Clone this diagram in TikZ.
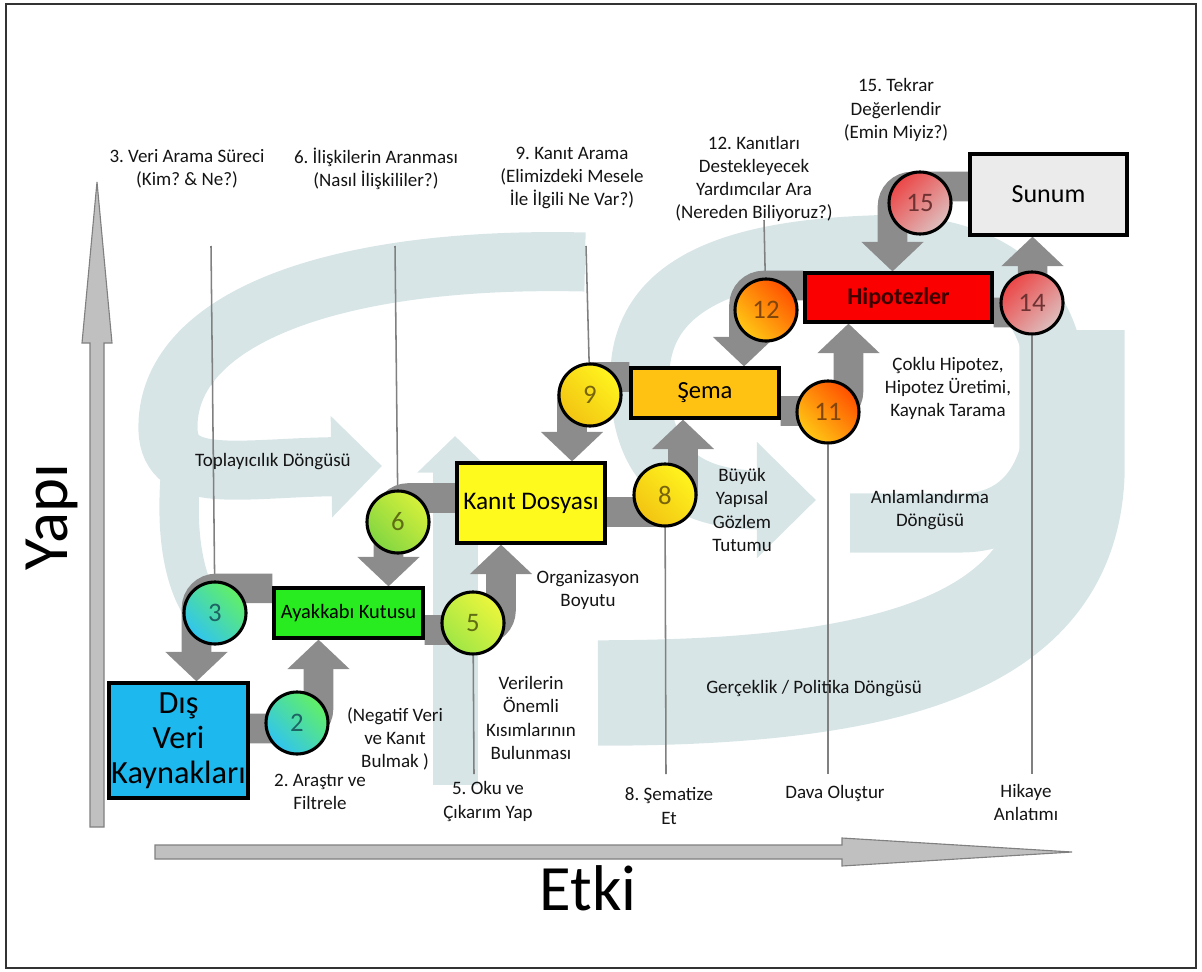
\documentclass[tikz,border=0pt]{standalone}
\usepackage{fontspec}
\setmainfont{Carlito}
\usepackage{tikz}
\usetikzlibrary{arrows.meta, calc, backgrounds}

\definecolor{swirl}{RGB}{216,229,231}
\definecolor{linkgray}{RGB}{140,140,140}
\definecolor{axisfill}{RGB}{192,192,192}
\definecolor{axisline}{RGB}{128,128,128}
\definecolor{disblue}{RGB}{28,184,238}
\definecolor{ayakgreen}{RGB}{40,236,32}
\definecolor{kanityellow}{RGB}{255,250,30}
\definecolor{semaamber}{RGB}{255,194,18}
\definecolor{hipored}{RGB}{250,0,0}
\definecolor{sunumgray}{RGB}{235,235,235}
\definecolor{cyantop}{RGB}{98,240,100}
\definecolor{cyanbot}{RGB}{48,196,240}
\definecolor{limetop}{RGB}{236,246,60}
\definecolor{limebot}{RGB}{160,230,70}
\definecolor{leaftop}{RGB}{214,240,58}
\definecolor{leafbot}{RGB}{130,214,66}
\definecolor{suntop}{RGB}{255,244,30}
\definecolor{sunbot}{RGB}{242,196,18}
\definecolor{firetop}{RGB}{255,80,0}
\definecolor{firebot}{RGB}{255,200,20}
\definecolor{rosetop}{RGB}{236,70,70}
\definecolor{rosebot}{RGB}{222,190,190}

\pgfdeclarelayer{swirls}
\pgfdeclarelayer{links}
\pgfsetlayers{swirls,links,main}

\def\px{0.025cm}
\frenchspacing

\tikzset{
    box/.style={draw=black, line width=2.2pt, inner sep=0pt, align=center},
    ball/.style 2 args={circle, draw=black, line width=2.2pt, minimum size=62*\px, inner sep=0pt,
        top color=#1, bottom color=#2, shading angle=-45, font=\fontsize{19}{19}\selectfont},
    link/.style={draw=linkgray, line width=21pt, rounded corners=14pt, -{Triangle[length=21pt,width=43pt]}},
    leader/.style={draw=black!50, line width=1.1pt},
    lbl/.style={align=center, text=black!92, font=\fontsize{13.5}{16.4}\selectfont},
    band/.style={draw=swirl, line width=#1},
}

\begin{document}
\begin{tikzpicture}[x=0.025cm, y=-0.025cm]

    \useasboundingbox (0,0) rectangle (1202,972);
    \draw[line width=1pt, black!80] (6,4) rectangle (1196,968);

    % background loops
    \begin{pgfonlayer}{swirls}
        \draw[band=42pt, -{Triangle[length=36pt,width=70pt]}] (585,262) .. controls (330,256) and (165,320) .. (168,430) .. controls (170,485) and (240,468) .. (382,466);
        \draw[band=28pt] (180,480) .. controls (176,540) and (185,585) .. (205,612);
        \draw[band=32pt, -{Triangle[length=26pt,width=52pt]}] (455,785) -- (455,436);
        \draw[band=42pt, -{Triangle[length=42pt,width=80pt]}] (850,523) -- (960,523) .. controls (1040,523) and (1062,450) .. (1055,370) .. controls (1045,275) and (960,240) .. (870,245) .. controls (740,250) and (645,280) .. (640,370) .. controls (636,470) and (690,500) .. (816,500);
        \draw[band=75pt] (598,693) .. controls (900,693) and (1068,640) .. (1072,470) -- (1072,330);
    \end{pgfonlayer}

    % axes
    \filldraw[fill=axisfill, draw=axisline, line width=0.8pt] (90,827) -- (90,343) -- (82,343) -- (97,182) -- (112,343) -- (104,343) -- (104,827) -- cycle;
    \filldraw[fill=axisfill, draw=axisline, line width=0.8pt] (155,845) -- (842,845) -- (842,838) -- (1072,852) -- (842,866) -- (842,859) -- (155,859) -- cycle;
    \node[font=\fontsize{46}{46}\selectfont, rotate=90] (yapi) at (52,517) {Yapı};
    \node[font=\fontsize{46}{46}\selectfont] (etki) at (588,888) {Etki};

    % boxes
    \node[box, fill=disblue, minimum width=139*\px, minimum height=115*\px, font=\fontsize{23}{25}\selectfont] (dis) at (178.5,740.5) {Dış\\Veri\\Kaynakları};
    \node[box, fill=ayakgreen, minimum width=149*\px, minimum height=50*\px, font=\fontsize{14.5}{16}\selectfont] (ayak) at (348.5,613) {Ayakkabı Kutusu};
    \node[box, fill=kanityellow, minimum width=148*\px, minimum height=80*\px, font=\fontsize{18}{20}\selectfont] (kanit) at (531,503) {Kanıt Dosyası};
    \node[box, fill=semaamber, minimum width=148*\px, minimum height=50*\px, font=\fontsize{17.5}{20}\selectfont] (sema) at (705,393) {Şema};
    \node[box, fill=hipored, minimum width=187*\px, minimum height=49*\px, font=\fontsize{17}{20}\selectfont\bfseries, text=red!25!black] (hipo) at (898.5,297.5) {Hipotezler};
    \node[box, fill=sunumgray, minimum width=157*\px, minimum height=81*\px, font=\fontsize{18.5}{20}\selectfont] (sunum) at (1048.5,194.5) {Sunum};

    % steps
    \node[ball={cyantop}{cyanbot}, text={rgb,255:red,30;green,100;blue,100}] (c2) at (297,723) {2};
    \node[ball={cyantop}{cyanbot}, text={rgb,255:red,30;green,100;blue,100}] (c3) at (215,613) {3};
    \node[ball={limetop}{limebot}, text={rgb,255:red,95;green,110;blue,20}] (c5) at (473,623) {5};
    \node[ball={leaftop}{leafbot}, text={rgb,255:red,95;green,110;blue,20}] (c6) at (398,522) {6};
    \node[ball={suntop}{sunbot}, text={rgb,255:red,120;green,100;blue,10}] (c8) at (665,495) {8};
    \node[ball={suntop}{sunbot}, text={rgb,255:red,120;green,100;blue,10}] (c9) at (590,395) {9};
    \node[ball={firetop}{firebot}, text={rgb,255:red,130;green,70;blue,10}] (c11) at (828,412) {11};
    \node[ball={firetop}{firebot}, text={rgb,255:red,130;green,70;blue,10}] (c12) at (766,310) {12};
    \node[ball={rosetop}{rosebot}, shading angle=45, text={rgb,255:red,110;green,50;blue,50}] (c14) at (1032,303) {14};
    \node[ball={rosetop}{rosebot}, shading angle=45, text={rgb,255:red,110;green,50;blue,50}] (c15) at (920,203) {15};

    % labels
    \node[lbl] (l3) at (187,168.5) {3. Veri Arama Süreci\\(Kim? \& Ne?)};
    \node[lbl] (l6) at (376,168.5) {6. İlişkilerin Aranması\\(Nasıl İlişkililer?)};
    \node[lbl] (l9) at (572,178) {9. Kanıt Arama\\(Elimizdeki Mesele\\İle İlgili Ne Var?)};
    \node[lbl] (l12) at (754,179) {12. Kanıtları\\Destekleyecek\\Yardımcılar Ara\\(Nereden Biliyoruz?)};
    \node[lbl] (l15) at (896,110) {15. Tekrar\\Değerlendir\\(Emin Miyiz?)};
    \node[lbl] (toplay) at (273,462) {Toplayıcılık Döngüsü};
    \node[lbl] (org) at (588,590) {Organizasyon\\Boyutu};
    \node[lbl] (buyuk) at (742,510) {Büyük\\Yapısal\\Gözlem\\Tutumu};
    \node[lbl] (coklu) at (948,388) {Çoklu Hipotez,\\Hipotez Üretimi,\\Kaynak Tarama};
    \node[lbl] (anlam) at (930,510) {Anlamlandırma\\Döngüsü};
    \node[lbl] (gercek) at (814,689) {Gerçeklik / Politika Döngüsü};
    \node[lbl] (veri) at (531,718) {Verilerin\\Önemli\\Kısımlarının\\Bulunması};
    \node[lbl] (negatif) at (395,739) {(Negatif Veri\\ve Kanıt\\Bulmak )};
    \node[lbl] (arastir) at (320,792) {2. Araştır ve\\Filtrele};
    \node[lbl] (oku) at (488,801.5) {5. Oku ve\\Çıkarım Yap};
    \node[lbl] (sematize) at (669,806) {8. Şematize\\Et};
    \node[lbl] (dava) at (835,793) {Dava Oluştur};
    \node[lbl] (hikaye) at (1026,802.5) {Hikaye\\Anlatımı};

    % leader line ends
    \coordinate (t3) at (211,246);
    \coordinate (t6) at (395,246);
    \coordinate (t9) at (586,246);
    \coordinate (t12) at (764,220);
    \coordinate (b5) at (474,774);
    \coordinate (b8) at (666,774);
    \coordinate (b11) at (828,774);
    \coordinate (b14) at (1032,774);

    \begin{pgfonlayer}{links}
        \draw[leader] (t3) -- (c3);
        \draw[leader] (t6) -- (c6);
        \draw[leader] (t9) -- (c9);
        \draw[leader] (t12) -- (c12);
        \draw[leader] (c5) -- (b5);
        \draw[leader] (c8) -- (b8);
        \draw[leader] (c11) -- (b11);
        \draw[leader] (c14) -- (b14);

        \draw[link] ($(dis.east)+(0,-12)$) -| ($(ayak.south)+(-30,0)$);
        \draw[link] ($(ayak.north west)+(0,2)$) -| ($(dis.north)+(18,0)$);
        \draw[link] ($(ayak.east)+(0,17)$) -| ($(kanit.south)+(-30,0)$);
        \draw[link] ($(kanit.west)+(0,-5)$) -| ($(ayak.north)+(40,0)$);
        \draw[link] ($(kanit.east)+(0,9)$) -| ($(sema.south)+(-22,0)$);
        \draw[link] ($(sema.west)+(0,-16)$) -| ($(kanit.north)+(41,0)$);
        \draw[link] ($(sema.east)+(0,18)$) -| ($(hipo.south)+(-50,0)$);
        \draw[link] ($(hipo.west)+(0,-12)$) -| ($(sema.north)+(39,0)$);
        \draw[link] ($(hipo.east)+(0,15)$) -| ($(sunum.south)+(-16,0)$);
        \draw[link] ($(sunum.west)+(0,-8)$) -| ($(hipo.north)+(-6,0)$);
    \end{pgfonlayer}

\end{tikzpicture}
\end{document}
